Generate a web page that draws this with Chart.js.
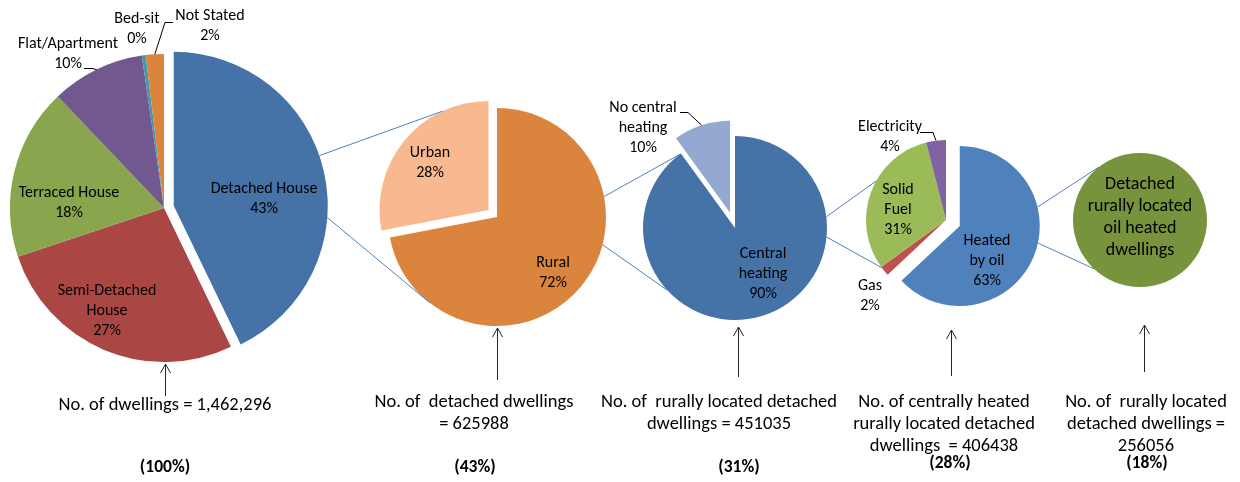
<!DOCTYPE html>
<html>
<head>
<meta charset="utf-8">
<title>Detached dwellings breakdown</title>
<script src="https://cdn.jsdelivr.net/npm/chart.js@4.4.1/dist/chart.umd.min.js"></script>
<style>
  html, body { margin: 0; padding: 0; background: #fff; }
  #stage {
    position: relative; width: 1240px; height: 482px; overflow: hidden;
    font-family: Carlito, Calibri, Lato, sans-serif; color: #000;
  }
  .pie { position: absolute; z-index: 1; }
  #overlay { position: absolute; left: 0; top: 0; z-index: 2; pointer-events: none; }
  .lbl {
    position: absolute; z-index: 3; transform: translate(-50%, -50%);
    text-align: center; white-space: pre; font-size: 16px; line-height: 20px;
  }
  .cap {
    position: absolute; z-index: 3; transform: translateX(-50%);
    text-align: center; white-space: pre; font-size: 18.5px; line-height: 22px;
  }
  .pct {
    position: absolute; z-index: 3; transform: translateX(-50%);
    font-weight: bold; font-size: 17.5px; line-height: 20px;
  }
</style>
</head>
<body>
<div id="stage">
  <canvas id="overlay" width="1240" height="482"></canvas>
</div>
<script>
// ---- data ----
const dwellingTypes = ["Detached House", ["Semi-Detached", "House"], "Terraced House", "Flat/Apartment", "Bed-sit", "Not Stated"];
const dwellingShares = [42.8, 27.0, 18.0, 9.8, 0.4, 1.9];

const locationTypes = ["Rural", "Urban"];
const locationShares = [72, 28];

const heatingTypes = [["Central", "heating"], ["No central", "heating"]];
const heatingShares = [90, 10];

const fuelTypes = [["Heated", "by oil"], "Gas", ["Solid", "Fuel"], "Electricity"];
const fuelShares = [63, 2, 31, 4];

const finalTypes = [["Detached", "rurally located", "oil heated", "dwellings"]];
const finalCounts = [256056];

const stageCaptions = [
  ["No. of dwellings = 1,462,296"],
  ["No. of  detached dwellings", "= 625988"],
  ["No. of  rurally located detached", "dwellings = 451035"],
  ["No. of centrally heated", "rurally located detached", "dwellings  = 406438"],
  ["No. of  rurally located", "detached dwellings =", "256056"],
];
const stageShares = ["(100%)", "(43%)", "(31%)", "(28%)", "(18%)"];

// ---- layout ----
const pies = [
  { labels: dwellingTypes, values: dwellingShares,
    colors: ["#4572A7", "#AA4643", "#89A54E", "#71588F", "#4198AF", "#DB843D"],
    cx: 164, cy: 208, r: 154, explode: [10, 0, 0, 0, 0, 0],
    place: [[100, -10], [-57, 102], [-95, -6], [-96, -155], [-27, -180], [46, -183]], pct: true },
  { labels: locationTypes, values: locationShares,
    colors: ["#DB843D", "#F9B990"],
    cx: 497, cy: 217, r: 109, explode: [0, 11],
    place: [[56, 55], [-67, -55]], pct: true },
  { labels: heatingTypes, values: heatingShares,
    colors: ["#4572A7", "#93A9CF"],
    cx: 735, cy: 228, r: 92, explode: [0, 16],
    place: [[28, 45], [-92, -101]], pct: true },
  { labels: fuelTypes, values: fuelShares,
    colors: ["#4F81BD", "#C0504D", "#9BBB59", "#8064A2"],
    cx: 946, cy: 220, r: 80, explode: [15, 0, 0, 0],
    place: [[41, 40], [-76, 75], [-48, -11], [-56, -84]], pct: true },
  { labels: finalTypes, values: finalCounts,
    colors: ["#77933C"],
    cx: 1140, cy: 220, r: 67, explode: [0],
    place: [[0, -4]], pct: false, big: true },
];

// [pie, slice, start x, start y (from centre), knee length]
const leaders = [
  [0, 3, -80, -140, 8],
  [0, 5, 9, -186, -8],
  [2, 1, -55, -116, 8],
  [3, 3, -26, -88, 13],
];

// [from pie, slice, angle, to pie, slice, angle]  angles clockwise from 12 o'clock
const connectors = [
  [0, 0, 71, 1, 1, 335],
  [0, 0, 94.4, 1, 0, 217.8],
  [1, 0, 79.2, 2, 0, 323.3],
  [1, 0, 104.7, 2, 0, 227.6],
  [2, 0, 83, 3, 2, 299.2],
  [2, 0, 95.6, 3, 2, 233.3],
  [3, 0, 76.3, 4, 0, 322.4],
  [3, 0, 102.3, 4, 0, 223.2],
];

const arrows = [
  { x: 165, tip: 364, tail: 396 },
  { x: 497, tip: 328, tail: 380 },
  { x: 738, tip: 327, tail: 377 },
  { x: 951, tip: 330, tail: 376 },
  { x: 1144, tip: 325, tail: 372 },
];
const captionPos = [[165, 393], [474, 390], [719, 390], [944, 390], [1146, 390]];
const sharePos = [[165, 456], [475, 456], [739, 456], [950, 452], [1147, 452]];

Chart.defaults.animation = false;
Chart.defaults.plugins.legend.display = false;
Chart.defaults.plugins.tooltip.enabled = false;

const stage = document.getElementById("stage");

// v4 "offset" also enlarges the slice, so push exploded slices out by hand
function explodePlugin(shifts) {
  return {
    id: "explode",
    afterDatasetUpdate(chart, args) {
      args.meta.data.forEach((arc, i) => {
        const d = shifts[i] || 0;
        if (!d) return;
        const baseDraw = Object.getPrototypeOf(arc).draw;
        arc.draw = function (ctx, area) {
          const a = (this.startAngle + this.endAngle) / 2;
          ctx.save();
          ctx.translate(Math.cos(a) * d, Math.sin(a) * d);
          baseDraw.call(this, ctx, area);
          ctx.restore();
        };
      });
    },
  };
}

const charts = pies.map((spec) => {
  const half = spec.r + 24;
  spec.left = spec.cx - half;
  spec.top = spec.cy - half;
  const canvas = document.createElement("canvas");
  canvas.className = "pie";
  canvas.width = half * 2;
  canvas.height = half * 2;
  canvas.style.left = spec.left + "px";
  canvas.style.top = spec.top + "px";
  stage.appendChild(canvas);
  return new Chart(canvas, {
    type: "pie",
    data: {
      labels: spec.labels,
      datasets: [{
        data: spec.values,
        backgroundColor: spec.colors,
        borderWidth: 0,
        radius: spec.r,
      }],
    },
    options: { responsive: false, radius: spec.r, layout: { padding: 0 } },
    plugins: [explodePlugin(spec.explode)],
  });
});

function pointOn(p, slice, deg) {
  const spec = pies[p];
  const arc = charts[p].getDatasetMeta(0).data[slice];
  const d = spec.explode[slice] || 0;
  const mid = (arc.startAngle + arc.endAngle) / 2;
  const t = deg == null ? mid : (deg - 90) * Math.PI / 180;
  return {
    x: spec.left + arc.x + Math.cos(mid) * d + Math.cos(t) * arc.outerRadius,
    y: spec.top + arc.y + Math.sin(mid) * d + Math.sin(t) * arc.outerRadius,
  };
}

// slice labels
pies.forEach((spec, p) => {
  const meta = charts[p].getDatasetMeta(0);
  const total = spec.values.reduce((s, v) => s + v, 0);
  spec.labels.forEach((name, i) => {
    const arc = meta.data[i];
    const lines = [].concat(name);
    if (spec.pct) lines.push(Math.round(spec.values[i] / total * 100) + "%");
    const div = document.createElement("div");
    div.className = "lbl";
    div.textContent = lines.join("\n");
    div.style.left = (spec.left + arc.x + spec.place[i][0]) + "px";
    div.style.top = (spec.top + arc.y + spec.place[i][1]) + "px";
    if (spec.big) {
      div.style.fontSize = "18px";
      div.style.lineHeight = "22px";
    }
    stage.appendChild(div);
  });
});

// captions under each stage
stageCaptions.forEach((lines, i) => {
  const cap = document.createElement("div");
  cap.className = "cap";
  cap.textContent = lines.join("\n");
  cap.style.left = captionPos[i][0] + "px";
  cap.style.top = captionPos[i][1] + "px";
  stage.appendChild(cap);

  const pct = document.createElement("div");
  pct.className = "pct";
  pct.textContent = stageShares[i];
  pct.style.left = sharePos[i][0] + "px";
  pct.style.top = sharePos[i][1] + "px";
  stage.appendChild(pct);
});

// connector lines, leaders and arrows
const ctx = document.getElementById("overlay").getContext("2d");
ctx.lineWidth = 1;

ctx.strokeStyle = "#4F81BD";
connectors.forEach(([a, ai, ad, b, bi, bd]) => {
  const s = pointOn(a, ai, ad);
  const e = pointOn(b, bi, bd);
  ctx.beginPath();
  ctx.moveTo(s.x, s.y);
  ctx.lineTo(e.x, e.y);
  ctx.stroke();
});

ctx.strokeStyle = "#000";
leaders.forEach(([p, i, dx, dy, knee]) => {
  const spec = pies[p];
  const sx = spec.cx + dx, sy = spec.cy + dy;
  const e = pointOn(p, i, null);
  ctx.beginPath();
  ctx.moveTo(sx, sy + 0.5);
  ctx.lineTo(sx + knee, sy + 0.5);
  ctx.lineTo(e.x, e.y);
  ctx.stroke();
});

ctx.strokeStyle = "#262626";
arrows.forEach(({ x, tip, tail }) => {
  const px = x + 0.5;
  ctx.beginPath();
  ctx.moveTo(px, tail);
  ctx.lineTo(px, tip);
  ctx.moveTo(px - 5, tip + 9);
  ctx.lineTo(px, tip);
  ctx.lineTo(px + 5, tip + 9);
  ctx.stroke();
});
</script>
</body>
</html>
